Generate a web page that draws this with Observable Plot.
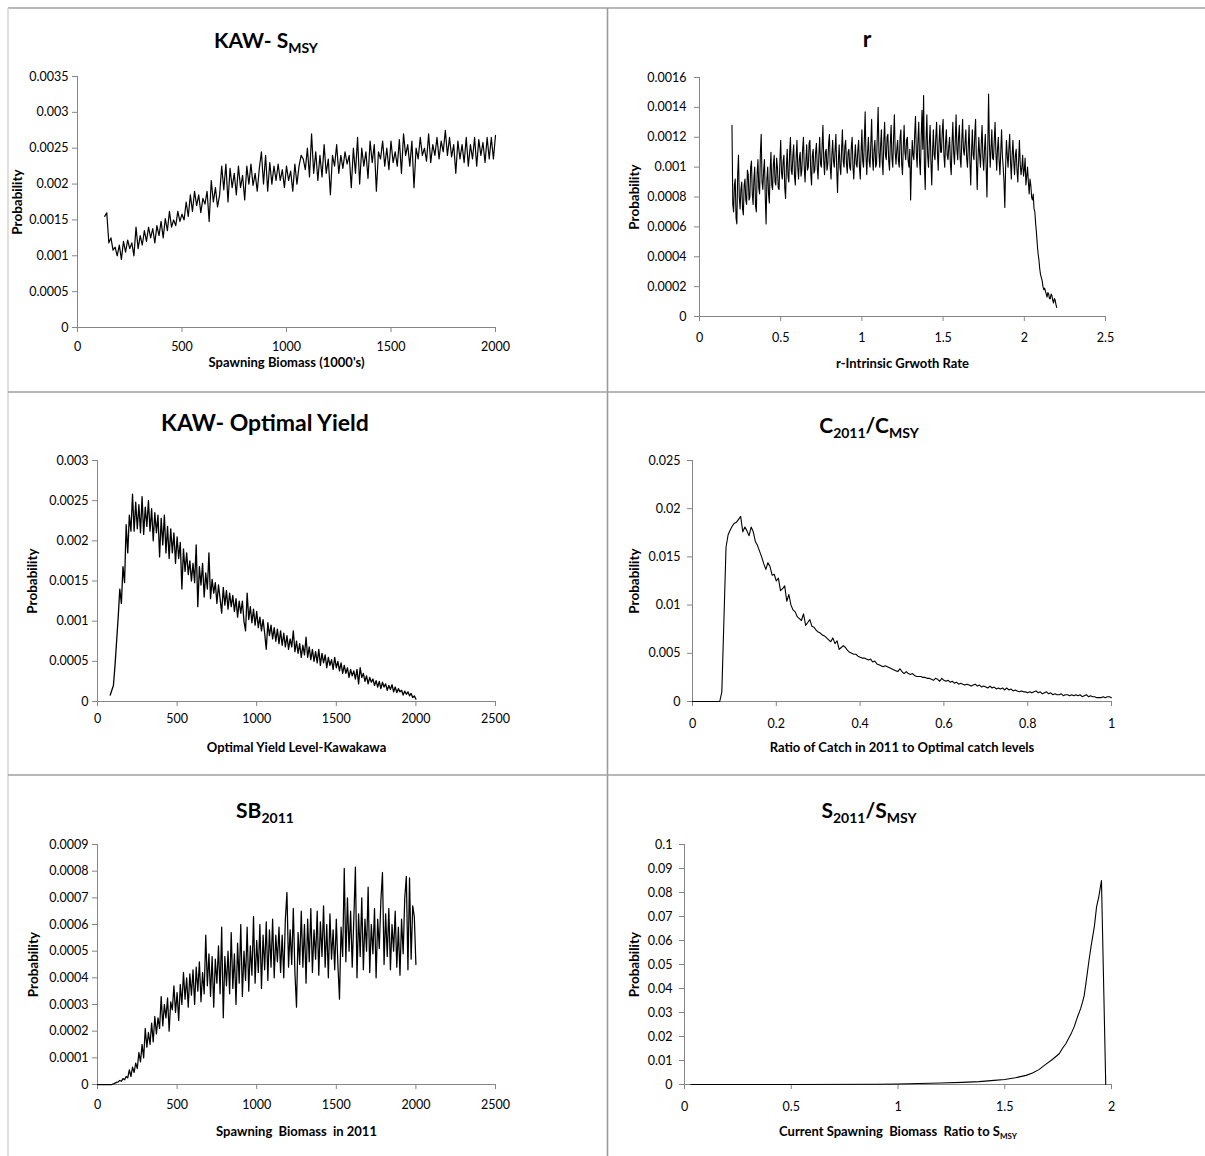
<!DOCTYPE html>
<html>
<head>
<meta charset="utf-8">
<script src="https://cdn.jsdelivr.net/npm/d3@7"></script>
<script src="https://cdn.jsdelivr.net/npm/@observablehq/plot@0.6"></script>
<style>
html,body{margin:0;padding:0;background:#fff;}
#root{position:relative;width:1205px;height:1156px;overflow:hidden;font-family:Lato,"Open Sans",sans-serif;background:#fff;}
#root > .p{position:absolute;}
#overlay{position:absolute;left:0;top:0;pointer-events:none;}
</style>
</head>
<body>
<div id="root"></div>
<script>
// ---------------- DATA ----------------
// Panel 1: KAW- S_MSY  (x from 130 by 10 to 2000)
const smsyStart = 130, smsyStep = 10;
const smsyProb = [
0.00155,0.00160,0.00118,0.00125,0.00108,0.00112,0.00100,0.00115,0.00095,0.00120,
0.00105,0.00122,0.00110,0.00118,0.00100,0.00140,0.00110,0.00128,0.00115,0.00135,
0.00120,0.00140,0.00125,0.00138,0.00118,0.00142,0.00128,0.00148,0.00125,0.00152,
0.00135,0.00162,0.00140,0.00150,0.00142,0.00162,0.00148,0.00158,0.00150,0.00175,
0.00155,0.00185,0.00162,0.00190,0.00170,0.00185,0.00160,0.00180,0.00172,0.00190,
0.00148,0.00205,0.00175,0.00195,0.00168,0.00185,0.00225,0.00192,0.00228,0.00175,
0.00222,0.00195,0.00215,0.00185,0.00225,0.00195,0.00212,0.00178,0.00225,0.00200,
0.00228,0.00198,0.00215,0.00190,0.00222,0.00245,0.00200,0.00240,0.00190,0.00230,
0.00200,0.00225,0.00205,0.00228,0.00205,0.00220,0.00195,0.00225,0.00205,0.00218,
0.00190,0.00228,0.00200,0.00225,0.00240,0.00235,0.00220,0.00250,0.00210,0.00270,
0.00215,0.00245,0.00205,0.00240,0.00210,0.00255,0.00215,0.00235,0.00185,0.00240,
0.00225,0.00255,0.00215,0.00240,0.00222,0.00245,0.00228,0.00240,0.00195,0.00250,
0.00215,0.00265,0.00200,0.00250,0.00225,0.00245,0.00208,0.00260,0.00230,0.00255,
0.00190,0.00245,0.00235,0.00260,0.00225,0.00250,0.00220,0.00260,0.00230,0.00245,
0.00225,0.00262,0.00215,0.00270,0.00240,0.00255,0.00225,0.00260,0.00195,0.00250,
0.00235,0.00265,0.00240,0.00250,0.00232,0.00270,0.00230,0.00255,0.00240,0.00265,
0.00235,0.00260,0.00245,0.00275,0.00240,0.00265,0.00238,0.00255,0.00215,0.00260,
0.00235,0.00255,0.00230,0.00265,0.00225,0.00255,0.00235,0.00265,0.00225,0.00262,
0.00240,0.00258,0.00230,0.00265,0.00235,0.00265,0.00235,0.00268
];

// Panel 2: r  (x from 0.200 by 0.005 to 2.200)
const rStart = 0.20, rStep = 0.005;
const rProb = [
0.00128,0.00075,0.00070,0.00088,0.00092,0.00066,0.00062,0.00095,0.00108,0.00080,0.00072,0.00085,0.00090,0.00072,0.00068,0.00088,0.00092,0.00078,0.00075,0.00098,
0.00095,0.00078,0.00080,0.00100,0.00104,0.00082,0.00075,0.00092,0.00100,0.00074,0.00070,0.00096,0.00105,0.00086,0.00082,0.00110,0.00122,0.00090,0.00085,0.00098,
0.00105,0.00080,0.00062,0.00092,0.00100,0.00082,0.00076,0.00098,0.00110,0.00088,0.00085,0.00102,0.00108,0.00090,0.00088,0.00106,0.00100,0.00086,0.00085,0.00104,
0.00118,0.00096,0.00092,0.00104,0.00108,0.00086,0.00079,0.00100,0.00112,0.00094,0.00090,0.00110,0.00120,0.00098,0.00095,0.00108,0.00115,0.00094,0.00088,0.00106,
0.00118,0.00100,0.00092,0.00106,0.00110,0.00094,0.00098,0.00112,0.00120,0.00100,0.00090,0.00104,0.00115,0.00098,0.00100,0.00116,0.00118,0.00096,0.00088,0.00108,
0.00112,0.00096,0.00098,0.00110,0.00116,0.00100,0.00092,0.00108,0.00120,0.00102,0.00100,0.00114,0.00128,0.00104,0.00095,0.00110,0.00112,0.00098,0.00102,0.00116,
0.00122,0.00100,0.00092,0.00108,0.00118,0.00104,0.00100,0.00112,0.00122,0.00098,0.00083,0.00104,0.00115,0.00100,0.00095,0.00112,0.00125,0.00104,0.00100,0.00114,
0.00118,0.00102,0.00096,0.00110,0.00112,0.00100,0.00098,0.00114,0.00120,0.00100,0.00092,0.00106,0.00115,0.00102,0.00100,0.00112,0.00118,0.00100,0.00092,0.00110,
0.00125,0.00104,0.00100,0.00118,0.00137,0.00108,0.00095,0.00110,0.00120,0.00104,0.00100,0.00116,0.00132,0.00106,0.00098,0.00112,0.00118,0.00100,0.00102,0.00122,
0.00140,0.00110,0.00100,0.00114,0.00125,0.00104,0.00095,0.00118,0.00130,0.00108,0.00105,0.00120,0.00122,0.00104,0.00098,0.00116,0.00128,0.00106,0.00100,0.00120,
0.00135,0.00110,0.00102,0.00112,0.00118,0.00104,0.00100,0.00120,0.00125,0.00102,0.00095,0.00114,0.00128,0.00110,0.00105,0.00118,0.00120,0.00104,0.00100,0.00112,
0.00078,0.00100,0.00118,0.00108,0.00105,0.00122,0.00134,0.00110,0.00100,0.00118,0.00130,0.00104,0.00095,0.00120,0.00138,0.00112,0.00148,0.00100,0.00085,0.00118,
0.00135,0.00108,0.00100,0.00116,0.00128,0.00104,0.00088,0.00110,0.00125,0.00108,0.00105,0.00120,0.00130,0.00110,0.00098,0.00116,0.00128,0.00110,0.00110,0.00124,
0.00132,0.00108,0.00100,0.00116,0.00125,0.00108,0.00105,0.00114,0.00120,0.00102,0.00095,0.00116,0.00130,0.00110,0.00102,0.00118,0.00135,0.00112,0.00105,0.00120,
0.00128,0.00106,0.00100,0.00118,0.00132,0.00112,0.00108,0.00116,0.00125,0.00106,0.00100,0.00114,0.00128,0.00104,0.00088,0.00110,0.00125,0.00108,0.00105,0.00122,
0.00132,0.00104,0.00085,0.00106,0.00120,0.00108,0.00100,0.00116,0.00128,0.00106,0.00098,0.00112,0.00122,0.00100,0.00080,0.00112,0.00149,0.00116,0.00100,0.00112,
0.00125,0.00106,0.00105,0.00118,0.00130,0.00110,0.00098,0.00112,0.00120,0.00104,0.00095,0.00110,0.00125,0.00108,0.00100,0.00090,0.00073,0.00100,0.00118,0.00108,
0.00100,0.00112,0.00122,0.00104,0.00092,0.00108,0.00118,0.00104,0.00095,0.00108,0.00112,0.00098,0.00090,0.00104,0.00118,0.00102,0.00095,0.00100,0.00108,0.00094,
0.00098,0.00106,0.00088,0.00094,0.00100,0.00090,0.00082,0.00092,0.00088,0.00080,0.00078,0.00082,0.00072,0.00070,0.00062,0.00056,0.00048,0.00042,0.00038,0.00032,
0.00028,0.00026,0.00024,0.00020,0.00018,0.00019,0.00017,0.00015,0.00013,0.00016,0.00015,0.00012,0.00012,0.00015,0.00014,0.00011,0.00009,0.00012,0.00011,0.00008,
0.00006
];

// Panel 3: KAW- Optimal Yield  (x from 80 by 10 to 2000)
const yieldStart = 80, yieldStep = 10;
const yieldProb = [
0.00008,0.00014,0.00020,0.00045,0.00075,0.00105,0.00140,0.00122,0.00168,0.00148,
0.00220,0.00185,0.00232,0.00212,0.00258,0.00212,0.00248,0.00215,0.00245,0.00210,
0.00255,0.00208,0.00242,0.00218,0.00250,0.00212,0.00240,0.00200,0.00235,0.00210,
0.00232,0.00180,0.00228,0.00195,0.00232,0.00185,0.00218,0.00178,0.00215,0.00185,
0.00210,0.00172,0.00205,0.00178,0.00198,0.00140,0.00190,0.00162,0.00185,0.00158,
0.00175,0.00150,0.00172,0.00148,0.00195,0.00118,0.00168,0.00145,0.00172,0.00130,
0.00160,0.00140,0.00185,0.00128,0.00152,0.00135,0.00148,0.00122,0.00145,0.00128,
0.00110,0.00142,0.00120,0.00138,0.00115,0.00135,0.00118,0.00132,0.00112,0.00128,
0.00105,0.00125,0.00110,0.00125,0.00100,0.00088,0.00135,0.00102,0.00118,0.00098,
0.00115,0.00095,0.00112,0.00092,0.00105,0.00088,0.00102,0.00085,0.00065,0.00098,
0.00082,0.00095,0.00078,0.00092,0.00075,0.00090,0.00072,0.00088,0.00070,0.00085,
0.00068,0.00082,0.00065,0.00078,0.00068,0.00088,0.00062,0.00075,0.00060,0.00072,
0.00055,0.00070,0.00058,0.00080,0.00055,0.00068,0.00052,0.00065,0.00050,0.00062,
0.00048,0.00065,0.00045,0.00060,0.00048,0.00058,0.00042,0.00055,0.00045,0.00052,
0.00040,0.00055,0.00042,0.00050,0.00038,0.00048,0.00035,0.00045,0.00035,0.00042,
0.00030,0.00040,0.00032,0.00038,0.00028,0.00040,0.00022,0.00042,0.00030,0.00035,
0.00025,0.00032,0.00022,0.00030,0.00024,0.00028,0.00020,0.00026,0.00018,0.00025,
0.00016,0.00024,0.00018,0.00022,0.00014,0.00020,0.00015,0.00021,0.00012,0.00018,
0.00011,0.00016,0.00012,0.00014,0.00008,0.00013,0.00009,0.00012,0.00007,0.00010,
0.00005,0.00007,0.00003
];

// Panel 4: C2011/CMSY  (x from 0 by 0.005 to 1)
const catchStart = 0, catchStep = 0.005;
const catchProb = [
0,0,0,0,0,0,0,0,0,0,0,0,0,
0,
0.0010,0.0085,0.0160,0.0173,0.0178,0.0182,0.0185,0.0186,0.0189,0.0192,
0.0176,0.0181,0.0177,0.0172,0.0181,0.0176,0.0166,0.0162,0.0156,0.0150,
0.0143,0.0137,0.0144,0.0140,0.0131,0.0132,0.0125,0.0128,0.0115,0.0117,
0.0120,0.0104,0.0111,0.0100,0.0095,0.0093,0.0088,0.0086,0.0084,0.0091,
0.0079,0.0082,0.0085,0.0078,0.0077,0.0074,0.0072,0.0071,0.0069,0.0068,
0.0066,0.0064,0.0062,0.0066,0.0060,0.0063,0.0054,0.0056,0.0058,0.0056,
0.0053,0.0051,0.0050,0.0049,0.0049,0.0047,0.0046,0.0045,0.0045,0.0044,
0.0043,0.0044,0.0041,0.0042,0.0039,0.0038,0.0037,0.0036,0.0037,0.0036,
0.0035,0.0034,0.0033,0.0032,0.0031,0.0034,0.0031,0.0029,0.0031,0.0029,
0.0028,0.0029,0.0027,0.0026,0.0026,0.0026,0.0025,0.0025,0.0024,0.0024,
0.0023,0.0022,0.0024,0.0023,0.0021,0.0024,0.0022,0.0021,0.0022,0.0020,
0.0021,0.0019,0.0020,0.0018,0.0019,0.0018,0.0017,0.0018,0.0017,0.0016,
0.0017,0.0018,0.0016,0.0017,0.0015,0.0016,0.0015,0.0014,0.0016,0.0014,
0.0015,0.0013,0.0014,0.0013,0.0014,0.0012,0.0014,0.0012,0.0013,0.0011,
0.0012,0.0011,0.0010,0.0011,0.0010,0.0010,0.0009,0.0010,0.0009,0.0010,
0.0011,0.0009,0.0010,0.0008,0.0009,0.0010,0.0008,0.0009,0.0007,0.0008,
0.0007,0.0007,0.0008,0.0006,0.0007,0.0007,0.0006,0.0007,0.0006,0.0007,
0.0006,0.0007,0.0005,0.0006,0.0007,0.0005,0.0006,0.0005,0.0005,0.0004,
0.0004,0.0004,0.0005,0.0004,0.0005,0.0005,0.0004
];

// Panel 5: SB2011  (x from 0 by 10 to 2000)
const sbStart = 0, sbStep = 10;
const sbProb = [
0,0,0,0,0,0,0,0,0,0,
0.000002,0.000005,0.000008,0.000010,0.000015,0.000012,0.000022,0.000018,0.000030,0.000025,
0.000055,0.000030,0.000065,0.000045,0.000080,0.000060,0.000120,0.000085,0.000150,0.000100,
0.000210,0.000140,0.000195,0.000150,0.000230,0.000160,0.000255,0.000190,0.000250,0.000210,
0.000330,0.000220,0.000300,0.000250,0.000325,0.000200,0.000310,0.000280,0.000370,0.000270,
0.000345,0.000240,0.000375,0.000300,0.000420,0.000320,0.000400,0.000290,0.000415,0.000335,
0.000430,0.000300,0.000440,0.000350,0.000460,0.000310,0.000420,0.000340,0.000560,0.000370,
0.000490,0.000330,0.000480,0.000290,0.000470,0.000380,0.000520,0.000340,0.000590,0.000250,
0.000480,0.000370,0.000500,0.000340,0.000570,0.000360,0.000490,0.000300,0.000530,0.000380,
0.000600,0.000330,0.000500,0.000390,0.000590,0.000350,0.000520,0.000410,0.000630,0.000380,
0.000540,0.000420,0.000600,0.000360,0.000560,0.000430,0.000610,0.000390,0.000580,0.000440,
0.000620,0.000400,0.000560,0.000460,0.000590,0.000420,0.000560,0.000400,0.000620,0.000720,
0.000440,0.000580,0.000450,0.000660,0.000420,0.000290,0.000570,0.000450,0.000650,0.000440,
0.000600,0.000380,0.000620,0.000460,0.000660,0.000420,0.000580,0.000470,0.000650,0.000410,
0.000610,0.000480,0.000670,0.000440,0.000600,0.000400,0.000640,0.000470,0.000580,0.000430,
0.000620,0.000450,0.000320,0.000590,0.000480,0.000810,0.000460,0.000700,0.000500,0.000650,
0.000440,0.000620,0.000815,0.000400,0.000640,0.000480,0.000700,0.000430,0.000620,0.000500,
0.000740,0.000420,0.000600,0.000490,0.000660,0.000400,0.000620,0.000510,0.000690,0.000795,
0.000450,0.000640,0.000480,0.000660,0.000430,0.000600,0.000500,0.000650,0.000440,0.000590,
0.000410,0.000620,0.000490,0.000700,0.000780,0.000430,0.000775,0.000470,0.000670,0.000630,
0.000450
];

// Panel 6: S2011/SMSY (explicit x positions)
const ratioX = [0.03,0.5,0.9,1.0,1.1,1.2,1.3,1.38,1.45,1.5,1.55,1.6,1.63,1.66,1.69,1.72,1.755,1.77,1.786,1.81,1.825,1.84,1.855,1.865,1.872,1.88,1.895,1.905,1.92,1.93,1.94,1.953,1.973];
const ratioProb = [0,0,0.0001,0.0002,0.0004,0.0006,0.0009,0.0012,0.0017,0.0021,0.0028,0.0038,0.0048,0.0062,0.0083,0.0102,0.0128,0.0150,0.0170,0.0210,0.0240,0.0280,0.0315,0.0345,0.0370,0.0420,0.0520,0.0580,0.0660,0.0740,0.0780,0.0850,0];

// Tick values
const smsyXTicks = [0, 500, 1000, 1500, 2000];
const smsyYTicks = [0, 0.0005, 0.001, 0.0015, 0.002, 0.0025, 0.003, 0.0035];
const rXTicks = [0, 0.5, 1, 1.5, 2, 2.5];
const rYTicks = [0, 0.0002, 0.0004, 0.0006, 0.0008, 0.001, 0.0012, 0.0014, 0.0016];
const yieldXTicks = [0, 500, 1000, 1500, 2000, 2500];
const yieldYTicks = [0, 0.0005, 0.001, 0.0015, 0.002, 0.0025, 0.003];
const catchXTicks = [0, 0.2, 0.4, 0.6, 0.8, 1];
const catchYTicks = [0, 0.005, 0.01, 0.015, 0.02, 0.025];
const sbXTicks = [0, 500, 1000, 1500, 2000, 2500];
const sbYTicks = [0, 0.0001, 0.0002, 0.0003, 0.0004, 0.0005, 0.0006, 0.0007, 0.0008, 0.0009];
const ratioXTicks = [0, 0.5, 1, 1.5, 2];
const ratioYTicks = [0, 0.01, 0.02, 0.03, 0.04, 0.05, 0.06, 0.07, 0.08, 0.09, 0.1];

// Labels
const yLabel = "Probability";
const xLabels = ["Spawning Biomass (1000's)", "r-Intrinsic Grwoth Rate", "Optimal Yield Level-Kawakawa",
  "Ratio of Catch in 2011 to Optimal catch levels", "Spawning  Biomass  in 2011", "Current Spawning  Biomass  Ratio to S"];
const ratioXLabelSub = "MSY";
const titles = [
  [["KAW- S", false], ["MSY", true]],
  [["r", false]],
  [["KAW- Optimal Yield", false]],
  [["C", false], ["2011", true], ["/C", false], ["MSY", true]],
  [["SB", false], ["2011", true]],
  [["S", false], ["2011", true], ["/S", false], ["MSY", true]]
];

// ---------------- BUILD ----------------
const stepSeries = (start, step, vals) => vals.map((v, i) => ({x: +(start + i * step).toFixed(6), y: v}));
const pairSeries = (xs, ys) => xs.map((x, i) => ({x, y: ys[i]}));
const fmt = d => String(d);

const panels = [
  {left: 0, top: 0, w: 605, h: 385, ml: 77, mr: 110, mt: 76, mb: 58, xDomain: [0, 2000], yDomain: [0, 0.0035],
   xTicks: smsyXTicks, yTicks: smsyYTicks, series: stepSeries(smsyStart, smsyStep, smsyProb), xPad: 10, yPad: 4, yLabDx: -60, xLabDy: 35, sw: 1.2,
   title: {x: 266, y: 48, size: 21}},
  {left: 605, top: 0, w: 600, h: 385, ml: 94, mr: 100, mt: 77, mb: 69, xDomain: [0, 2.5], yDomain: [0, 0.0016],
   xTicks: rXTicks, yTicks: rYTicks, series: stepSeries(rStart, rStep, rProb), xPad: 12, yPad: 8, yLabDx: -65, xLabDy: 47, sw: 1.1,
   title: {x: 867, y: 47, size: 23}},
  {left: 0, top: 392, w: 605, h: 380, ml: 97, mr: 110, mt: 68, mb: 71, xDomain: [0, 2500], yDomain: [0, 0.003],
   xTicks: yieldXTicks, yTicks: yieldYTicks, series: stepSeries(yieldStart, yieldStep, yieldProb), xPad: 8, yPad: 4, yLabDx: -65, xLabDy: 46.5, sw: 1.3,
   title: {x: 265, y: 431, size: 23}},
  {left: 605, top: 392, w: 600, h: 380, ml: 87, mr: 94, mt: 68, mb: 71, xDomain: [0, 1], yDomain: [0, 0.025],
   xTicks: catchXTicks, yTicks: catchYTicks, series: stepSeries(catchStart, catchStep, catchProb), xPad: 13, yPad: 7, yLabDx: -58, xLabDy: 46.5, sw: 1.1,
   title: {x: 869, y: 433, size: 21}},
  {left: 0, top: 775, w: 605, h: 381, ml: 97, mr: 110, mt: 69, mb: 72, xDomain: [0, 2500], yDomain: [0, 0.0009],
   xTicks: sbXTicks, yTicks: sbYTicks, series: stepSeries(sbStart, sbStep, sbProb), xPad: 11, yPad: 4, yLabDx: -64, xLabDy: 47.5, sw: 1.25,
   title: {x: 265, y: 818, size: 21}},
  {left: 605, top: 775, w: 600, h: 381, ml: 79, mr: 94, mt: 69, mb: 72, xDomain: [0, 2], yDomain: [0, 0.1],
   xTicks: ratioXTicks, yTicks: ratioYTicks, series: pairSeries(ratioX, ratioProb), xPad: 13, yPad: 7, yLabDx: -50, xLabDy: 47.5, sw: 1.1,
   title: {x: 869, y: 818, size: 21}}
];

const root = document.getElementById("root");
const AXIS = "#868686";

panels.forEach((c, i) => {
  const xl = i === 5 ? xLabels[i] + ratioXLabelSub : xLabels[i];
  const fig = Plot.plot({
    width: c.w, height: c.h,
    marginLeft: c.ml, marginRight: c.mr, marginTop: c.mt, marginBottom: c.mb,
    style: {fontFamily: "Lato, 'Open Sans', sans-serif", fontSize: "12.5px", color: "#000", background: "transparent", overflow: "visible"},
    x: {domain: c.xDomain, label: null},
    y: {domain: c.yDomain, label: null},
    marks: [
      Plot.ruleY([0], {stroke: AXIS}),
      Plot.ruleX([c.xDomain[0]], {stroke: AXIS}),
      Plot.axisX(c.xTicks, {tickSize: 5, tickPadding: c.xPad, tickFormat: fmt, stroke: AXIS, fill: "#000", fontSize: 12.5, label: null}),
      Plot.axisY(c.yTicks, {tickSize: 5, tickPadding: c.yPad, tickFormat: fmt, stroke: AXIS, fill: "#000", fontSize: 12.5, label: null}),
      Plot.line(c.series, {x: "x", y: "y", stroke: "#000", strokeWidth: c.sw}),
      Plot.text([yLabel], {text: d => d, frameAnchor: "left", textAnchor: "middle", lineAnchor: "middle", dx: c.yLabDx, rotate: -90, fontWeight: "bold", fontSize: 13.5, fill: "#000"}),
      Plot.text([xl], {text: d => d, frameAnchor: "bottom", textAnchor: "middle", lineAnchor: "middle", dy: c.xLabDy, fontWeight: "bold", fontSize: 13, fill: "#000"})
    ]
  });
  const div = document.createElement("div");
  div.className = "p";
  div.style.left = c.left + "px";
  div.style.top = c.top + "px";
  div.style.width = c.w + "px";
  div.style.height = c.h + "px";
  div.appendChild(fig);
  root.appendChild(div);
  if (i === 5) {
    fig.querySelectorAll("text").forEach(t => {
      if (t.textContent === xl) {
        t.textContent = xLabels[i];
        const ts = document.createElementNS("http://www.w3.org/2000/svg", "tspan");
        ts.setAttribute("font-size", "8");
        ts.setAttribute("dy", "3");
        ts.textContent = ratioXLabelSub;
        t.appendChild(ts);
      }
    });
  }
});

// overlay: panel dividers and titles
const NS = "http://www.w3.org/2000/svg";
const ov = document.createElementNS(NS, "svg");
ov.setAttribute("id", "overlay");
ov.setAttribute("width", 1205);
ov.setAttribute("height", 1156);
const line = (x1, y1, x2, y2, col, w) => {
  const l = document.createElementNS(NS, "line");
  l.setAttribute("x1", x1); l.setAttribute("y1", y1); l.setAttribute("x2", x2); l.setAttribute("y2", y2);
  l.setAttribute("stroke", col); l.setAttribute("stroke-width", w);
  ov.appendChild(l);
};
line(8, 8, 1205, 8, "#a0a0a0", 1.5);
line(8, 8, 8, 1156, "#d4d4d4", 1.5);
line(607.5, 8, 607.5, 1156, "#9c9c9c", 1.6);
line(8, 392, 1205, 392, "#a0a0a0", 1.6);
line(8, 775, 1205, 775, "#a0a0a0", 1.6);

panels.forEach((c, i) => {
  const t = document.createElementNS(NS, "text");
  t.setAttribute("x", c.title.x);
  t.setAttribute("y", c.title.y);
  t.setAttribute("text-anchor", "middle");
  t.setAttribute("font-family", "Lato, 'Open Sans', sans-serif");
  t.setAttribute("font-weight", "bold");
  t.setAttribute("font-size", c.title.size);
  t.setAttribute("fill", "#000");
  let prevSub = false;
  titles[i].forEach(([txt, sub]) => {
    const ts = document.createElementNS(NS, "tspan");
    ts.textContent = txt;
    if (sub) { ts.setAttribute("font-size", 14); if (!prevSub) ts.setAttribute("dy", 5); }
    else if (prevSub) ts.setAttribute("dy", -5);
    prevSub = sub;
    t.appendChild(ts);
  });
  ov.appendChild(t);
});
root.appendChild(ov);
</script>
</body>
</html>
